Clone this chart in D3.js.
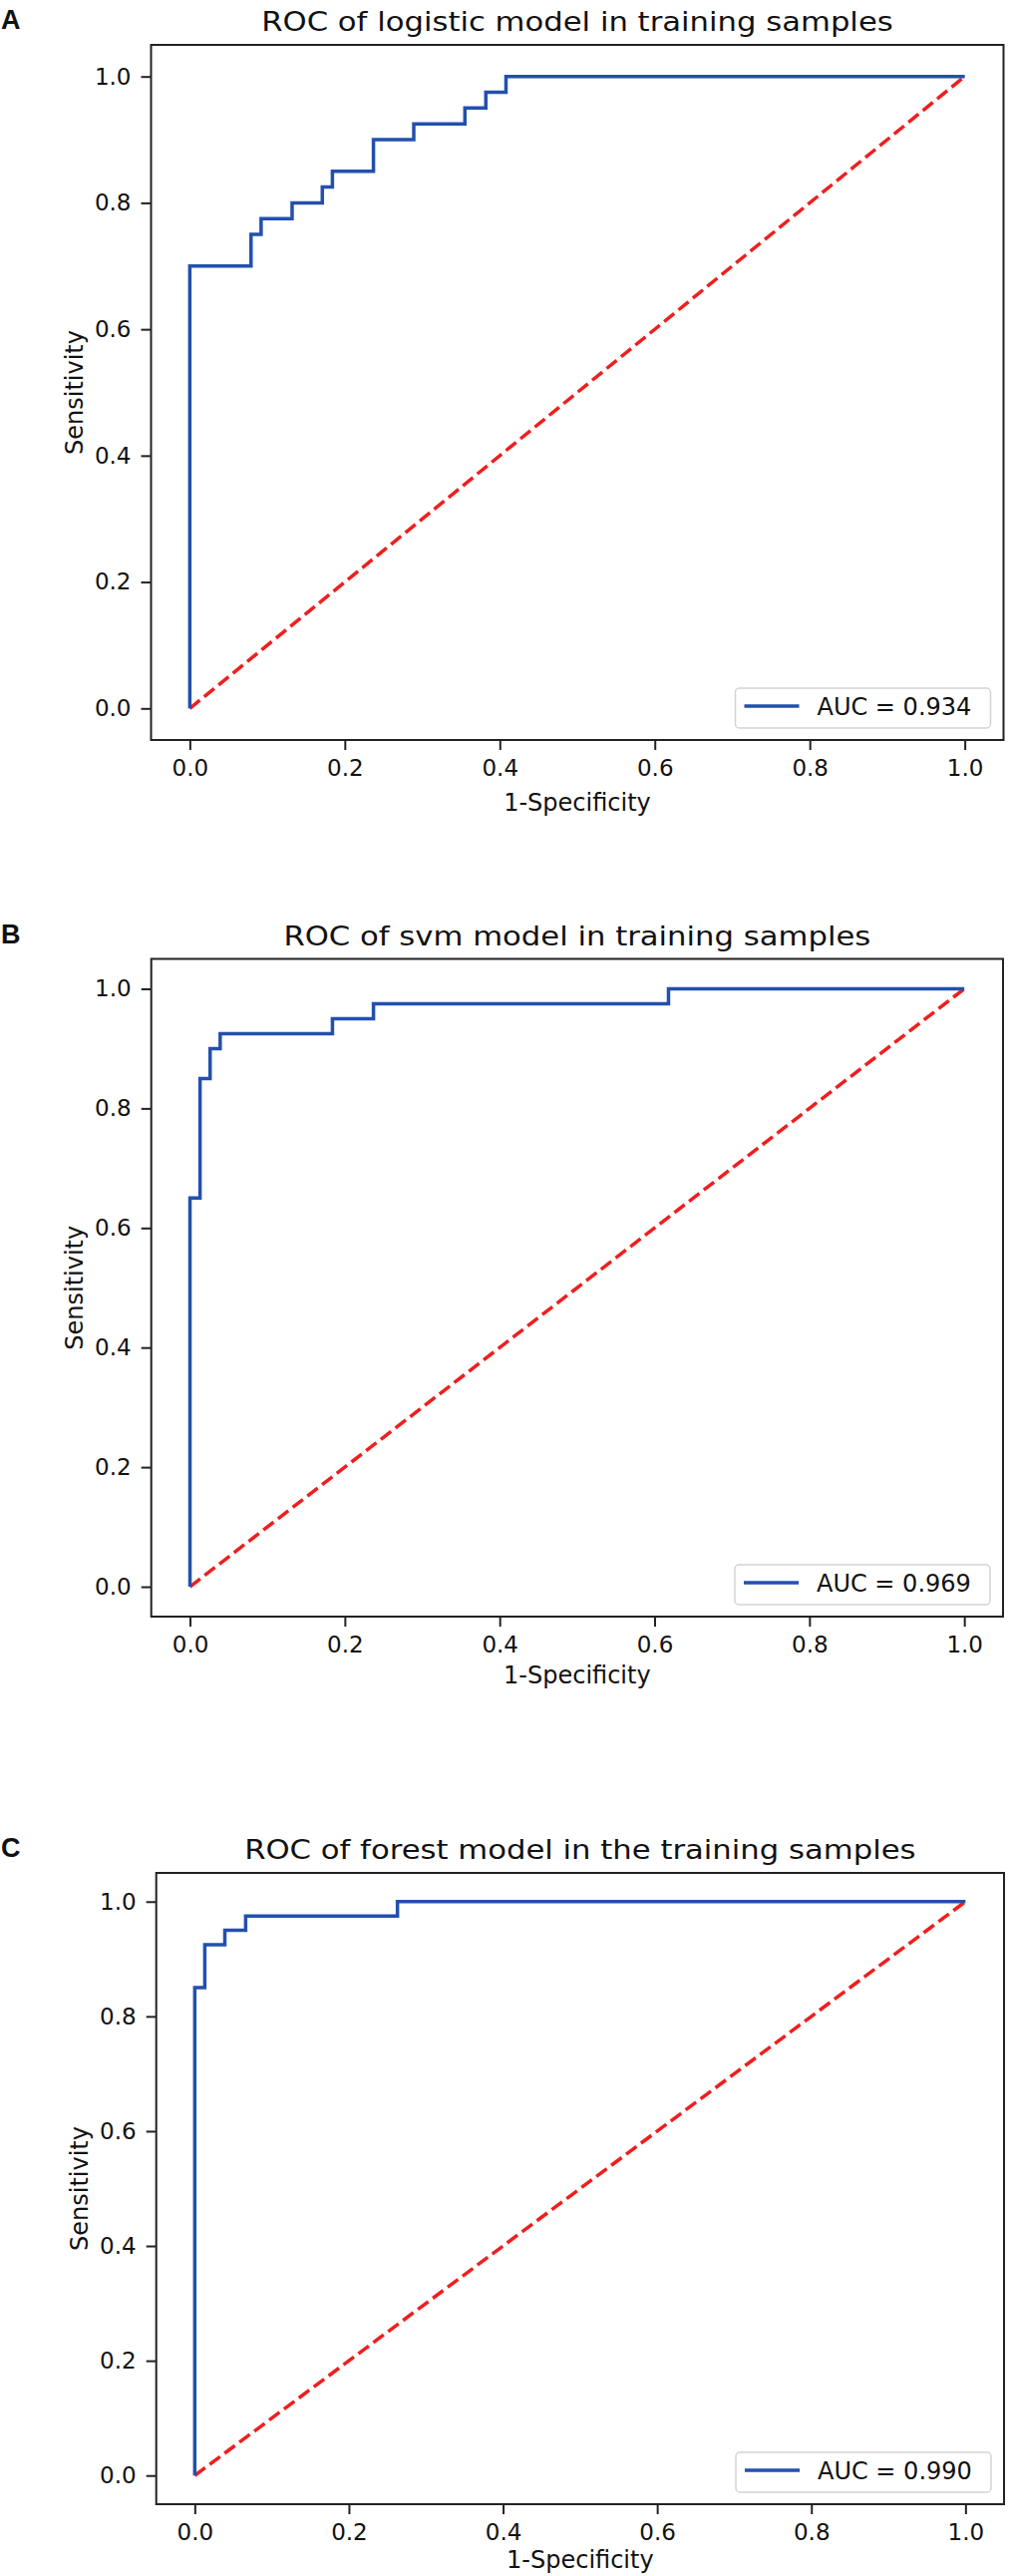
<!DOCTYPE html>
<html>
<head>
<meta charset="utf-8">
<script src="https://d3js.org/d3.v7.min.js"></script>
<style>
  body { margin: 0; background: #fff; }
  text { font-family: "DejaVu Sans", sans-serif; fill: #111; }
</style>
</head>
<body>
<div id="container"></div>
<script>
// panel letters, titles and legend values
const panelLetters = ["A", "B", "C"];
const panelTitles = [
  "ROC of logistic model in training samples",
  "ROC of svm model in training samples",
  "ROC of forest model in the training samples"
];
const aucLabels = ["AUC = 0.934", "AUC = 0.969", "AUC = 0.990"];
const tickValues = [0.0, 0.2, 0.4, 0.6, 0.8, 1.0];

// ROC corner points (1-specificity, sensitivity)
const logisticFpr = [0, 0, 0.079, 0.079, 0.092, 0.092, 0.132, 0.132, 0.171, 0.171, 0.184, 0.184, 0.237, 0.237, 0.289, 0.289, 0.355, 0.355, 0.382, 0.382, 0.408, 0.408, 1];
const logisticTpr = [0, 0.70, 0.70, 0.75, 0.75, 0.775, 0.775, 0.80, 0.80, 0.825, 0.825, 0.85, 0.85, 0.90, 0.90, 0.925, 0.925, 0.95, 0.95, 0.975, 0.975, 1, 1];

const svmFpr = [0, 0, 0.013, 0.013, 0.026, 0.026, 0.039, 0.039, 0.184, 0.184, 0.237, 0.237, 0.618, 0.618, 1];
const svmTpr = [0, 0.65, 0.65, 0.85, 0.85, 0.90, 0.90, 0.925, 0.925, 0.95, 0.95, 0.975, 0.975, 1, 1];

const forestFpr = [0, 0, 0.013, 0.013, 0.039, 0.039, 0.066, 0.066, 0.263, 0.263, 1];
const forestTpr = [0, 0.85, 0.85, 0.925, 0.925, 0.95, 0.95, 0.975, 0.975, 1, 1];

// chance line
const chanceX = [0, 1];
const chanceY = [0, 1];

const width = 1015;
const height = 2583;

// frame box of each panel in page pixels
const frames = [
  {left: 151.5, right: 1006.5, top: 45, bottom: 742, xlab: 813},
  {left: 151.7, right: 1006, top: 961.5, bottom: 1621, xlab: 1688},
  {left: 156.7, right: 1007, top: 1878, bottom: 2511, xlab: 2575}
];

const curves = [
  [logisticFpr, logisticTpr],
  [svmFpr, svmTpr],
  [forestFpr, forestTpr]
];

const svg = d3.select("#container")
  .append("svg")
  .attr("width", width)
  .attr("height", height);

const blue = "#2350ae";
const red = "#f01e1e";

frames.forEach((f, i) => {
  const x = d3.scaleLinear().domain([-0.05, 1.05]).range([f.left, f.right]);
  const y = d3.scaleLinear().domain([-0.05, 1.05]).range([f.bottom, f.top]);
  const g = svg.append("g");

  // y axis
  const yAxis = g.append("g")
    .attr("transform", `translate(${f.left},0)`)
    .call(d3.axisLeft(y).tickValues(tickValues).tickFormat(d3.format(".1f")).tickSize(10).tickPadding(10));
  yAxis.select(".domain").remove();
  yAxis.selectAll("line").attr("stroke", "#222").attr("stroke-width", 2);
  yAxis.selectAll("text").attr("font-size", 23).attr("font-family", "DejaVu Sans").attr("fill", "#111");

  // x axis
  const xAxis = g.append("g")
    .attr("transform", `translate(0,${f.bottom})`)
    .call(d3.axisBottom(x).tickValues(tickValues).tickFormat(d3.format(".1f")).tickSize(10).tickPadding(10));
  xAxis.select(".domain").remove();
  xAxis.selectAll("line").attr("stroke", "#222").attr("stroke-width", 2);
  xAxis.selectAll("text").attr("font-size", 23).attr("font-family", "DejaVu Sans").attr("fill", "#111");

  // chance diagonal
  g.append("path")
    .datum(d3.zip(chanceX, chanceY))
    .attr("d", d3.line().x(d => x(d[0])).y(d => y(d[1])))
    .attr("fill", "none")
    .attr("stroke", red)
    .attr("stroke-width", 3.5)
    .attr("stroke-dasharray", "13,5.6");

  // ROC curve
  const [fpr, tpr] = curves[i];
  g.append("path")
    .datum(d3.zip(fpr, tpr))
    .attr("d", d3.line().x(d => x(d[0])).y(d => y(d[1])))
    .attr("fill", "none")
    .attr("stroke", blue)
    .attr("stroke-width", 3.5)
    .attr("stroke-linejoin", "miter");

  // frame
  g.append("rect")
    .attr("x", f.left).attr("y", f.top)
    .attr("width", f.right - f.left).attr("height", f.bottom - f.top)
    .attr("fill", "none").attr("stroke", "#222").attr("stroke-width", 2);

  // legend
  const lg = g.append("g").attr("transform", `translate(${f.right},${f.bottom})`);
  lg.append("rect")
    .attr("x", -269).attr("y", -52).attr("width", 256).attr("height", 40)
    .attr("rx", 4)
    .attr("fill", "#fff").attr("fill-opacity", 0.8)
    .attr("stroke", "#d4d4d4").attr("stroke-width", 1.5);
  lg.append("line")
    .attr("x1", -260).attr("x2", -205).attr("y1", -34).attr("y2", -34)
    .attr("stroke", blue).attr("stroke-width", 3.5);
  lg.append("text")
    .attr("x", -187).attr("y", -25)
    .attr("font-size", 24)
    .text(aucLabels[i]);

  // title, stretched a little wider like the source image
  const cx = (f.left + f.right) / 2;
  const title = g.append("text")
    .attr("x", cx).attr("y", f.top - 14)
    .attr("text-anchor", "middle")
    .attr("font-size", 26)
    .text(panelTitles[i]);
  const natural = title.node().getComputedTextLength();
  title.attr("textLength", natural * 1.18).attr("lengthAdjust", "spacingAndGlyphs");

  // axis labels
  g.append("text")
    .attr("x", cx).attr("y", f.xlab)
    .attr("text-anchor", "middle")
    .attr("font-size", 24)
    .text("1-Specificity");

  g.append("text")
    .attr("transform", `translate(${f.left - 69},${(f.top + f.bottom) / 2}) rotate(-90)`)
    .attr("text-anchor", "middle")
    .attr("font-size", 24)
    .text("Sensitivity");

  // panel letter
  g.append("text")
    .attr("x", 1).attr("y", f.top - 16)
    .attr("font-weight", "bold")
    .attr("font-size", 27)
    .style("font-family", "'Liberation Sans', Arial, sans-serif")
    .text(panelLetters[i]);
});
</script>
</body>
</html>
